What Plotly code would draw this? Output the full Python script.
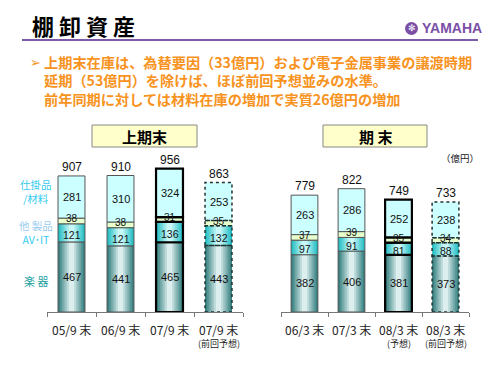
import plotly.graph_objects as go

# ---------------- data ----------------
h_categories = ["05/9 末", "06/9 末", "07/9 末", "07/9 末"]
h_notes = ["", "", "", "(前回予想)"]
h_gakki = [467, 441, 465, 443]      # 楽器
h_avit = [121, 121, 136, 132]       # AV･IT
h_other = [38, 38, 31, 35]          # 他製品
h_wip = [281, 310, 324, 253]        # 仕掛品/材料
h_total = [907, 910, 956, 863]

y_categories = ["06/3 末", "07/3 末", "08/3 末", "08/3 末"]
y_notes = ["", "", "(予想)", "(前回予想)"]
y_gakki = [382, 406, 381, 373]
y_avit = [97, 91, 81, 88]
y_other = [37, 39, 35, 34]
y_wip = [263, 286, 252, 238]
y_total = [779, 822, 749, 733]

segment_names = ["楽 器", "AV･IT", "他 製品", "仕掛品<br>/材料"]

# ---------------- styles ----------------
W, H = 500, 375
def px(x): return x / W
def py(y): return 1 - y / H

outline_style = ["thin", "thin", "thick", "dotted"]

def grad(outer, inner, n):
    cols = []
    for k in range(n):
        t = k / (n - 1)
        c = [round(o + (i - o) * t) for o, i in zip(outer, inner)]
        cols.append("rgb(%d,%d,%d)" % tuple(c))
    return cols

seg_layers = [
    grad((55, 128, 128), (220, 238, 238), 7),   # 楽器
    grad((40, 190, 195), (200, 248, 248), 6),   # AV-IT
    ["#E6FFCC"],                               # 他製品
    ["#CCFFFF"],                               # 仕掛品/材料
]
label_shift = [0, -2, 2, 0]          # small nudge for thin-band labels
label_size = [11, 10.5, 10, 11]
legend_colors = ["#20A0A0", "#33CCEE", "#99CCEE", "#33CCEE"]
jp = "Noto Sans CJK JP"

fig = go.Figure()
annotations = []
shapes = []

def add_panel(xa, ya, cats, notes, segs, totals, width):
    xs = list(range(len(cats)))
    base = [0] * len(xs)
    for si, vals in enumerate(segs):
        layers = seg_layers[si]
        n = len(layers)
        for li, col in enumerate(layers):
            frac = 1 - li / n * 0.95 if n > 1 else 1
            fig.add_trace(go.Bar(x=xs, y=vals, base=base, width=width * frac,
                                 marker=dict(color=col, line=dict(width=0)),
                                 xaxis=xa, yaxis=ya, showlegend=False, hoverinfo="skip"))
        lw = [1 if o == "thin" else 2.2 if o == "thick" else 0 for o in outline_style]
        lc = ["#555" if o == "thin" else "#000" for o in outline_style]
        fig.add_trace(go.Bar(x=xs, y=vals, base=base, width=width,
                             marker=dict(color="rgba(0,0,0,0)", line=dict(width=lw, color=lc)),
                             xaxis=xa, yaxis=ya, showlegend=False, hoverinfo="skip"))
        for i, o in enumerate(outline_style):
            if o == "dotted":
                shapes.append(dict(type="rect", xref=xa, yref=ya,
                                   x0=i - width / 2, x1=i + width / 2,
                                   y0=base[i], y1=base[i] + vals[i],
                                   line=dict(dash="dot", width=1.5, color="#223333"),
                                   fillcolor="rgba(0,0,0,0)"))
        for i, v in enumerate(vals):
            annotations.append(dict(x=i, y=base[i] + v / 2, xref=xa, yref=ya,
                                    xanchor="center", yanchor="middle", yshift=label_shift[si],
                                    text=str(v), showarrow=False,
                                    font=dict(family="Liberation Sans, Arial",
                                              size=label_size[si], color="#111")))
        base = [b + v for b, v in zip(base, vals)]
    for i, t in enumerate(totals):
        annotations.append(dict(x=i, y=t, xref=xa, yref=ya, text=str(t),
                                showarrow=False, xanchor="center", yanchor="bottom", yshift=0,
                                font=dict(family="Liberation Sans, Arial", size=12, color="#111")))
    for i, c in enumerate(cats):
        annotations.append(dict(x=i, y=py(329), xref=xa, yref="paper", text=c,
                                xanchor="center", yanchor="middle",
                                showarrow=False, font=dict(family=jp, size=12, color="#222")))
        if notes[i]:
            annotations.append(dict(x=i, y=py(343), xref=xa, yref="paper", text=notes[i],
                                    xanchor="center", yanchor="middle",
                                    showarrow=False, font=dict(family=jp, size=9, color="#222")))

add_panel("x", "y", h_categories, h_notes, [h_gakki, h_avit, h_other, h_wip], h_total, 0.55)
add_panel("x2", "y2", y_categories, y_notes, [y_gakki, y_avit, y_other, y_wip], y_total, 0.57)

# ---------------- decorations ----------------
def note(x, y, text, font, xanchor="center", align="center"):
    annotations.append(dict(x=px(x), y=py(y), xref="paper", yref="paper", text=text,
                            xanchor=xanchor, yanchor="middle", align=align,
                            showarrow=False, font=font))

note(30, 25, "<b>棚 卸 資 産</b>", dict(family=jp, size=22, color="#000"), "left")
shapes.append(dict(type="line", xref="paper", yref="paper", x0=px(22), x1=px(478),
                   y0=py(40), y1=py(40), line=dict(color="#7D5BA6", width=2)))
shapes.append(dict(type="circle", xref="paper", yref="paper", x0=px(405), x1=px(418),
                   y0=py(35), y1=py(22), fillcolor="#7B4FA6", line=dict(width=0)))
note(411.5, 28.5, "✻", dict(family="DejaVu Sans", size=9, color="white"))
note(420, 28.5, "<b>YAMAHA</b>", dict(family="Liberation Sans, Arial", size=14, color="#7B4FA6"), "left")

orange = "#F7931E"
lines = ["上期末在庫は、為替要因（33億円）および電子金属事業の譲渡時期",
         "延期（53億円）を除けば、ほぼ前回予想並みの水準。",
         "前年同期に対しては材料在庫の増加で実質26億円の増加"]
note(28, 62, "➢", dict(family="DejaVu Sans", size=13, color=orange), "left")
note(42, 80, "<b>" + "<br>".join(lines) + "</b>",
     dict(family=jp, size=14.2, color=orange), "left", "left")

for (x0, x1, label) in [(92, 197, "上期末"), (323, 427, "期 末")]:
    shapes.append(dict(type="rect", xref="paper", yref="paper", x0=px(x0), x1=px(x1),
                       y0=py(147), y1=py(125), fillcolor="#FFFFCC", line=dict(color="#888", width=1)))
    note((x0 + x1) / 2, 136.5, "<b>" + label + "</b>", dict(family=jp, size=15, color="#000"))

note(460, 158, "（億円）", dict(family=jp, size=9.5, color="#222"))

# legend labels at left of first panel
note(36, 281, segment_names[0], dict(family=jp, size=11, color=legend_colors[0]))
note(36, 232, '<span style="color:%s">%s</span><br><span style="color:%s">%s</span>'
     % (legend_colors[2], segment_names[2], legend_colors[1], segment_names[1]),
     dict(family=jp, size=10.5, color=legend_colors[1]))
note(36, 191, segment_names[3], dict(family=jp, size=10.5, color=legend_colors[3]))

axis_common = dict(range=[-0.5, 3.5], showline=True, linecolor="#777", linewidth=1,
                   ticks="outside", ticklen=4, tickcolor="#777",
                   tickvals=[-0.5, 0.5, 1.5, 2.5, 3.5], showticklabels=False,
                   showgrid=False, zeroline=False, fixedrange=True)
yaxis_common = dict(range=[0, 1080], domain=[py(312), py(150)], visible=False,
                    showgrid=False, zeroline=False, fixedrange=True)

fig.update_layout(
    width=W, height=H, autosize=False,
    margin=dict(l=0, r=0, t=0, b=0),
    paper_bgcolor="white", plot_bgcolor="rgba(0,0,0,0)",
    barmode="overlay", showlegend=False,
    xaxis=dict(domain=[px(47), px(243)], anchor="y", **axis_common),
    yaxis=dict(anchor="x", **yaxis_common),
    xaxis2=dict(domain=[px(281), px(469)], anchor="y2", **axis_common),
    yaxis2=dict(anchor="x2", **yaxis_common),
    annotations=annotations, shapes=shapes,
)

fig.write_html("out.html", config={"displayModeBar": False},
               post_script="document.body.style.margin='0';document.body.style.overflow='hidden';")
